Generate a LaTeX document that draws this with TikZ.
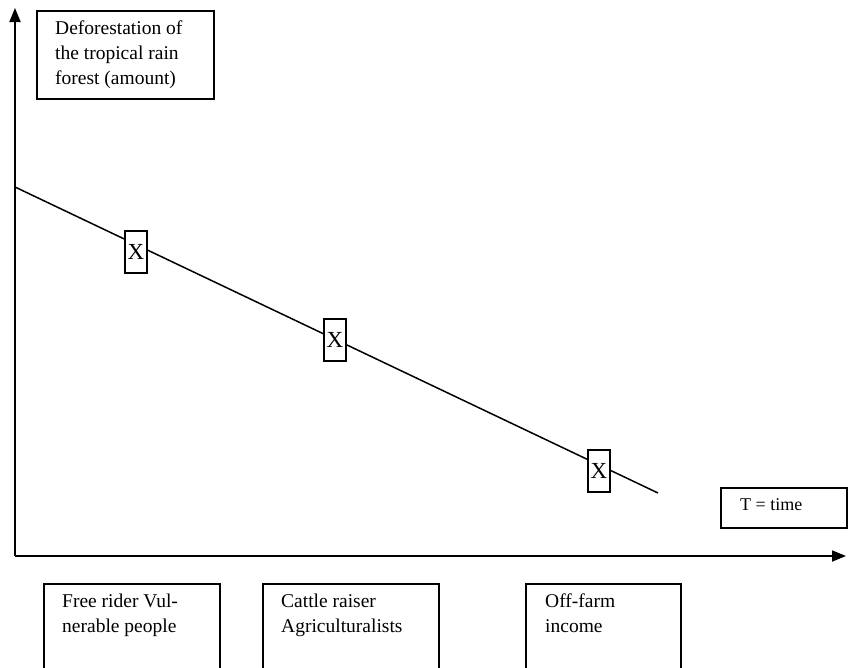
\documentclass[tikz,border=0pt]{standalone}
\usepackage{fontspec}
\setmainfont{Liberation Serif}
\usetikzlibrary{arrows.meta}
\begin{document}
\begin{tikzpicture}[x=1pt,y=-1pt,
  axis/.style={line width=1.8pt,-{Triangle[length=14pt,width=11pt]}},
  lbox/.style={draw,line width=1.5pt,anchor=north west,inner sep=0pt},
  txt/.style={anchor=north west,align=left,inner sep=0pt,font=\fontsize{19.5}{25}\selectfont},
  xbox/.style={draw,fill=white,line width=1.4pt,minimum width=22pt,minimum height=42pt,inner sep=0pt,font=\fontsize{23}{24}\selectfont}]
\useasboundingbox (0,0) rectangle (848,667);
\clip (0,0) rectangle (848,667);
% axes
\coordinate (o) at (15,556);
\coordinate (ytop) at (15,8);
\coordinate (xend) at (846,556);
\draw[axis] (o) -- (ytop);
\draw[axis] (o) -- (xend);
% top-left label box
\node[lbox,minimum width=177pt,minimum height=88pt] (ybox) at (36,10) {};
\node[txt] (ytxt) at (55,21) {Deforestation of\\the tropical rain\\forest (amount)};
% trend line
\coordinate (ls) at (15,187);
\coordinate (le) at (658,493);
\draw[line width=1.5pt] (ls) -- (le);
\node[xbox] (x1) at (136,252) {X};
\node[xbox] (x2) at (335,340) {X};
\node[xbox] (x3) at (599,471) {X};
% time box
\node[lbox,minimum width=126pt,minimum height=40pt] (tbox) at (720,487) {};
\node[txt,font=\fontsize{18}{20}\selectfont] (ttxt) at (740,498) {T = time};
% bottom boxes
\node[lbox,minimum width=176pt,minimum height=100pt] (b1) at (43,583) {};
\node[txt] (b1t) at (62,594) {Free rider Vul-\\nerable people};
\node[lbox,minimum width=176pt,minimum height=100pt] (b2) at (262,583) {};
\node[txt] (b2t) at (281,594) {Cattle raiser\\Agriculturalists};
\node[lbox,minimum width=155pt,minimum height=100pt] (b3) at (525,583) {};
\node[txt] (b3t) at (545,594) {Off-farm\\income};
\end{tikzpicture}
\end{document}
